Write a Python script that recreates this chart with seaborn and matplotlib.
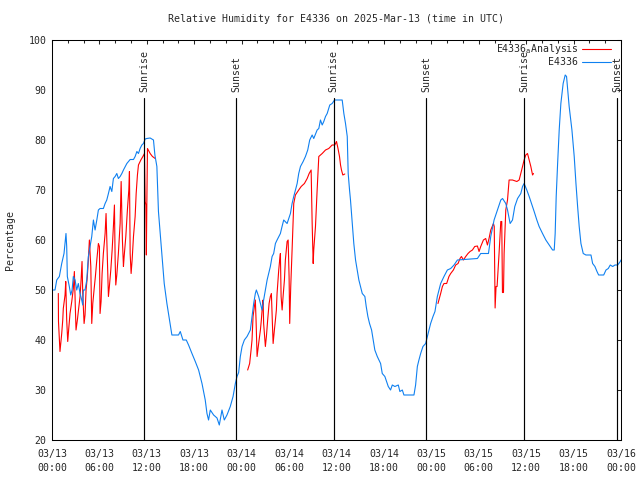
import numpy as np
import pandas as pd
import seaborn as sns
import matplotlib
matplotlib.use("Agg")
import matplotlib.pyplot as plt
import matplotlib.dates as mdates
from matplotlib.lines import Line2D

START = pd.Timestamp("2025-03-13 00:00")

# E4336 observations (hours after 03/13 00:00 UTC, relative humidity %)
obs_hours = [0.16, 0.38, 0.60, 0.93, 1.23, 1.52, 1.65, 1.77, 1.86, 1.94,
             2.19, 2.37, 2.54, 2.70, 2.92, 3.13, 3.33, 3.55, 3.76, 3.89,
             3.97, 4.18, 4.40, 4.60, 4.82, 5.03, 5.24, 5.45, 5.67, 5.87,
             6.08, 6.50, 6.72, 6.93, 7.14, 7.35, 7.57, 7.77, 7.99, 8.20,
             8.40, 8.62, 8.84, 9.04, 9.47, 9.89, 10.31, 10.52, 10.74, 10.94,
             11.15, 11.37, 11.57, 11.79, 12.00, 12.42, 12.84, 13.02, 13.27, 13.47,
             13.69, 13.91, 14.20, 14.54, 14.87, 15.17, 16.01, 16.23, 16.57, 16.99,
             17.28, 17.71, 18.13, 18.55, 18.98, 19.39, 19.61, 19.81, 20.03, 20.45,
             20.88, 21.17, 21.51, 21.80, 22.14, 22.56, 22.91, 23.20, 23.41, 23.62,
             23.83, 24.05, 24.34, 24.68, 25.10, 25.31, 25.52, 25.73, 25.86, 26.15,
             26.37, 26.58, 26.78, 27.00, 27.22, 27.42, 27.63, 27.85, 28.05, 28.27,
             28.48, 28.90, 29.11, 29.32, 29.75, 30.17, 30.38, 30.59, 30.80, 31.02,
             31.22, 31.44, 31.78, 32.07, 32.36, 32.61, 32.92, 33.12, 33.55, 33.76,
             33.97, 34.19, 34.39, 34.61, 34.82, 35.15, 35.45, 35.75, 36.72, 36.93,
             37.14, 37.36, 37.48, 37.65, 37.77, 37.99, 38.19, 38.41, 38.62, 38.83,
             39.04, 39.26, 39.59, 39.76, 39.97, 40.18, 40.44, 40.65, 40.85, 41.16,
             41.58, 41.79, 42.12, 42.55, 42.84, 43.06, 43.39, 43.82, 44.02, 44.33,
             44.53, 45.80, 46.01, 46.23, 46.43, 46.65, 46.94, 47.28, 47.50, 47.70,
             47.91, 48.21, 48.46, 48.76, 49.18, 49.60, 50.03, 50.45, 50.87, 51.30,
             53.83, 54.25, 55.23, 55.52, 55.94, 56.37, 56.79, 57.01, 57.42, 57.64,
             57.97, 58.27, 58.56, 58.91, 59.32, 59.54, 59.74, 60.08, 60.38, 60.68,
             61.01, 61.35, 61.64, 62.07, 62.49, 62.91, 63.34, 63.55, 63.67, 63.80,
             63.98, 64.18, 64.39, 64.68, 64.94, 65.11, 65.44, 65.79, 66.08, 66.30,
             66.51, 66.71, 66.93, 67.22, 67.56, 68.20, 68.41, 68.70, 68.96, 69.17,
             69.81, 70.10, 70.39, 70.64, 70.95, 71.24, 71.58, 71.91, 72.0]
obs_rh = [50, 50, 52, 52.7, 55.3, 57.3, 59.3, 61.3, 58.7, 52.7,
          50.7, 49, 50, 52.7, 52, 50, 51.3, 49.3, 48, 47,
          50, 50, 52, 56.7, 58.7, 60.7, 64, 62, 64, 66,
          66.3, 66.3, 67.3, 68, 69.3, 70.7, 69.7, 72.3, 72.7, 73.3,
          72.3, 72.7, 73.3, 74, 75.3, 76.1, 76.1, 76.7, 77.7, 77.3,
          78.3, 79, 79.3, 80.2, 80.3, 80.4, 80, 77, 74.7, 65.7,
          61.3, 56.7, 51.3, 47.3, 44, 41, 41, 41.7, 40, 40,
          39, 37.3, 35.7, 34, 31.3, 28, 25.3, 24, 26, 25,
          24.4, 23, 26, 24, 25, 26.7, 28.7, 31.3, 32.7, 33.5,
          36.7, 38.7, 40, 40.7, 42, 44.7, 47.3, 49.3, 50, 48.7,
          47.3, 46, 48, 50, 52, 53.3, 54.7, 56.7, 57.3, 59.3,
          60, 61.3, 62.7, 64, 63.3, 65.3, 67.3, 68.7, 70, 71.3,
          73.3, 74.7, 75.7, 76.7, 78, 80, 81, 80.3, 82, 82.3,
          84, 83, 83.7, 84.7, 85.3, 87, 87.3, 88, 88, 85.3,
          83.3, 80.7, 73.3, 70, 68, 63.3, 59.3, 56, 54, 52,
          50.7, 49.3, 48.7, 46.7, 44.7, 43.3, 42, 40, 38, 36.7,
          35.3, 33.3, 32.7, 30.7, 30, 31, 30.7, 31, 29.7, 30,
          29, 29, 31, 34.7, 36, 37.3, 38.7, 39.3, 40.7, 42,
          43.3, 44.7, 45.7, 48.7, 51.3, 52.7, 54, 54.3, 55, 56,
          56.3, 57.3, 57.3, 60.7, 64, 66, 68, 68.3, 67.3, 66,
          63.3, 64, 66.7, 68.3, 69.3, 70.7, 71.3, 70, 68.7, 67.3,
          65.7, 64, 62.7, 61.3, 60, 59, 58, 58, 61.3, 68.7,
          75.3, 82, 87.3, 91.3, 93, 92.7, 86.7, 82, 76.7, 71.3,
          66.7, 62.7, 59.3, 57.3, 57, 57, 55.3, 54.7, 53.7, 53,
          53, 54, 54.3, 55, 54.7, 55, 55, 55.7, 56]

# E4336_Analysis, one run per day
ana1_hours = [0.80, 0.82, 1.01, 1.23, 1.36, 1.43, 1.65, 1.74, 1.86, 1.99,
              2.12, 2.28, 2.50, 2.70, 2.83, 2.95, 3.04, 3.21, 3.33, 3.55,
              3.68, 3.80, 3.89, 4.06, 4.18, 4.31, 4.47, 4.60, 4.73, 4.91,
              5.03, 5.16, 5.32, 5.49, 5.67, 5.87, 6.00, 6.08, 6.21, 6.34,
              6.50, 6.72, 6.84, 7.01, 7.14, 7.26, 7.44, 7.61, 7.77, 7.90,
              7.99, 8.07, 8.20, 8.40, 8.62, 8.75, 8.91, 9.04, 9.13, 9.34,
              9.54, 9.72, 9.80, 9.89, 10.01, 10.14, 10.31, 10.52, 10.65, 10.81,
              10.94, 11.24, 11.50, 11.70, 11.79, 11.88, 11.94, 12.00, 12.08, 12.42,
              12.71, 13.06]
ana1_rh = [49.3, 43.7, 37.7, 41.3, 44, 46.3, 49, 51.7, 44, 39.7,
           42.3, 45.3, 47.7, 50.3, 53.7, 46.7, 42, 44, 45.7, 48.7,
           52, 55.7, 49.3, 43.3, 45, 50, 52.7, 56, 60, 54.7,
           43.3, 47.3, 50, 52.7, 56, 59.3, 58.7, 45.3, 47.7, 53.3,
           57.3, 61.3, 65.3, 56, 48.7, 50.7, 54, 58, 62.7, 67,
           56, 51, 53, 57.3, 63.3, 71.7, 60, 54.7, 56.7, 60.7,
           66, 70, 73.7, 57.3, 53.3, 56, 60.7, 64.7, 69.3, 73,
           75, 76, 76.7, 77.3, 67.7, 67, 57, 67.3, 78.3, 77.3,
           76.7, 76.3]
ana2_hours = [24.76, 25.01, 25.19, 25.31, 25.44, 25.61, 25.73, 25.82, 25.95, 26.15,
              26.37, 26.49, 26.62, 26.71, 26.78, 27.00, 27.13, 27.29, 27.47, 27.63,
              27.76, 27.89, 27.98, 28.14, 28.27, 28.39, 28.48, 28.69, 28.81, 28.90,
              28.99, 29.12, 29.24, 29.41, 29.53, 29.75, 29.88, 30.00, 30.08, 30.21,
              30.38, 30.59, 30.80, 31.22, 31.53, 31.94, 32.29, 32.54, 32.79, 32.92,
              33.05, 33.12, 33.34, 33.55, 33.76, 34.19, 34.61, 35.02, 35.45, 35.78,
              36.00, 36.19, 36.38, 36.51, 36.63, 36.80, 37.05]
ana2_rh = [34, 35.3, 38, 40, 44.7, 46.7, 48, 44, 36.7, 39.3,
           42, 44, 46.7, 48, 43.3, 38.7, 40.7, 44, 47.3, 48.7,
           49.3, 43.3, 39.3, 42, 44, 46, 49.3, 54, 56, 57.3,
           48.7, 46, 48.7, 52, 56, 59.7, 60, 52.7, 43.3, 50.7,
           58, 67.3, 69, 70, 70.7, 71.3, 72.3, 73.3, 74, 63.3,
           55.3, 58, 62.7, 70, 76.7, 77.3, 78, 78.3, 79, 79,
           79.7, 78.3, 76.7, 75, 74, 73, 73.2]
ana3_hours = [48.84, 49.18, 49.40, 49.60, 49.94, 50.23, 50.45, 50.79, 51.08, 51.38,
              51.63, 51.81, 52.06, 52.35, 52.64, 52.90, 53.20, 53.49, 53.83, 54.04,
              54.25, 54.59, 54.88, 55.10, 55.30, 55.52, 55.86, 55.96, 56.07, 56.19,
              56.32, 56.57, 56.79, 56.91, 57.00, 57.13, 57.21, 57.42, 57.64, 57.84,
              58.27, 58.82, 59.11, 59.32, 59.54, 59.74, 59.95, 60.17, 60.38, 60.59,
              60.81, 60.93]
ana3_rh = [47.3, 49.3, 50.7, 51.3, 51.3, 52.7, 53.3, 54, 55, 55.3,
           56.3, 56.7, 56, 56.7, 57.3, 57.7, 58, 58.7, 58.8, 57.7,
           58.7, 60, 60.3, 59, 60.3, 62, 63.3, 62.7, 46.4, 50.7,
           50.7, 57.3, 63.7, 63.7, 49.5, 49.5, 57.3, 66, 68, 72,
           72, 71.7, 72, 73.3, 74.7, 76, 77, 77.3, 76, 74.7,
           73, 73.3]

sunrise = ["2025-03-13 11:42", "2025-03-14 11:40", "2025-03-15 11:43"]
sunset = ["2025-03-13 23:18", "2025-03-14 23:23", "2025-03-15 23:29"]

OBS_COLOR = "#0f80f0"
ANA_COLOR = "#ff0000"


def to_time(hours):
    return START + pd.to_timedelta(np.array(hours), unit="h")


sns.set_style("white")
plt.rcParams.update({
    "font.family": ["DejaVu Sans Mono"],
    "font.size": 7.1,
    "axes.linewidth": 0.75,
    "xtick.direction": "in",
    "ytick.direction": "in",
    "xtick.top": True,
    "ytick.right": True,
    "xtick.major.size": 3.2,
    "xtick.minor.size": 1.8,
    "ytick.major.size": 3.2,
    "xtick.major.width": 0.75,
    "xtick.minor.width": 0.75,
    "ytick.major.width": 0.75,
    "axes.edgecolor": "black",
})

obs = pd.DataFrame({"time": to_time(obs_hours), "rh": obs_rh})
ana = pd.concat([
    pd.DataFrame({"time": to_time(h), "rh": v, "run": i})
    for i, (h, v) in enumerate([(ana1_hours, ana1_rh), (ana2_hours, ana2_rh), (ana3_hours, ana3_rh)])
])

fig = plt.figure(figsize=(6.4, 4.8), dpi=100)
ax = fig.add_axes([52 / 640, 40 / 480, 569 / 640, 400 / 480])

sns.lineplot(data=ana, x="time", y="rh", units="run", estimator=None, sort=False,
             color=ANA_COLOR, lw=0.8, ax=ax)
sns.lineplot(data=obs, x="time", y="rh", estimator=None, sort=False,
             color=OBS_COLOR, lw=0.8, ax=ax)

# sunrise / sunset markers
for label, times in (("Sunrise", sunrise), ("Sunset", sunset)):
    for t in pd.to_datetime(times):
        ax.axvline(t, ymin=0, ymax=0.855, color="black", lw=0.85)
        ax.text(t, 0.87, label, rotation=90, ha="center", va="bottom",
                transform=ax.get_xaxis_transform())

ax.set_xlim(START, START + pd.Timedelta(hours=72))
ax.set_ylim(20, 100)
ax.set_yticks(range(20, 101, 10))
ax.xaxis.set_major_locator(mdates.HourLocator(byhour=[0, 6, 12, 18]))
ax.xaxis.set_minor_locator(mdates.HourLocator(byhour=range(0, 24, 2)))
ax.xaxis.set_major_formatter(mdates.DateFormatter("%m/%d\n%H:%M"))
ax.tick_params(axis="x", which="both", pad=6.5)
ax.tick_params(axis="y", pad=4)
for lbl in ax.get_xticklabels():
    lbl.set_linespacing(1.45)

ax.set_xlabel("")
ax.set_ylabel("")
fig.text(10 / 640, 0.5, "Percentage", rotation=90, ha="center", va="center")
fig.text(336 / 640, 1 - 19 / 480, "Relative Humidity for E4336 on 2025-Mar-13 (time in UTC)",
         ha="center", va="center")

handles = [Line2D([], [], color=ANA_COLOR, lw=0.8), Line2D([], [], color=OBS_COLOR, lw=0.8)]
ax.legend(handles, ["E4336$_\\mathregular{a}$Analysis", "E4336"], loc="upper right",
          bbox_to_anchor=(1 - 10 / 569, 1 - 2 / 400), frameon=False, markerfirst=False,
          borderpad=0, borderaxespad=0, handlelength=2.9, handletextpad=0.4,
          labelspacing=0.15)

fig.savefig("out.png", dpi=100)
